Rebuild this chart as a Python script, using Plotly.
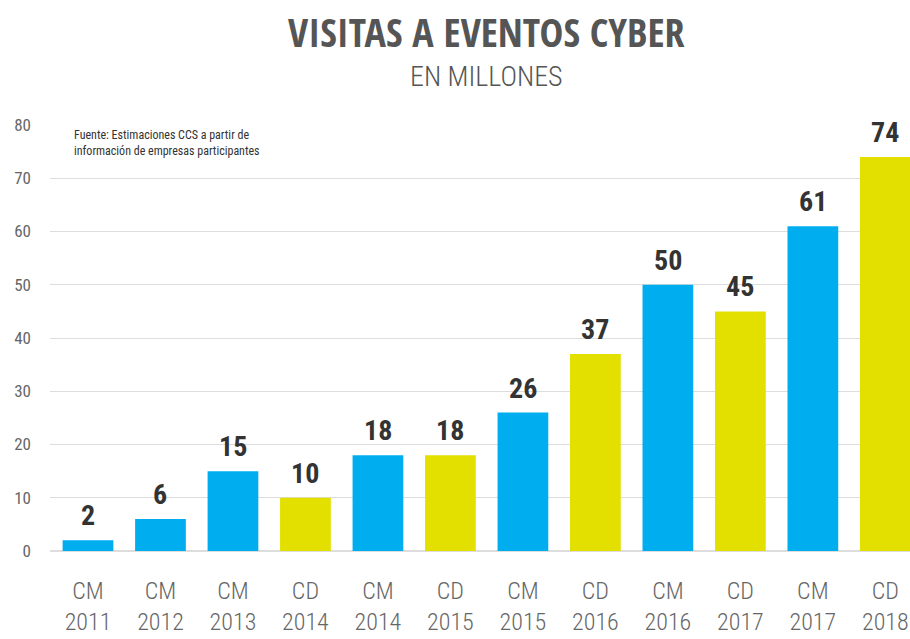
import plotly.graph_objects as go

categories = ["CM<br>2011", "CM<br>2012", "CM<br>2013", "CD<br>2014", "CM<br>2014", "CD<br>2015",
              "CM<br>2015", "CD<br>2016", "CM<br>2016", "CD<br>2017", "CM<br>2017", "CD<br>2018"]
values = [2, 6, 15, 10, 18, 18, 26, 37, 50, 45, 61, 74]
event_type = ["CM", "CM", "CM", "CD", "CM", "CD", "CM", "CD", "CM", "CD", "CM", "CD"]
y_ticks = [0, 10, 20, 30, 40, 50, 60, 70, 80]

BLUE = "#00AEEF"
YELLOW = "#E3E000"
colors = [BLUE if t == "CM" else YELLOW for t in event_type]

FONT = "Roboto Condensed, Open Sans Condensed, sans-serif"
TITLE_FONT = "Open Sans Condensed, Roboto Condensed, sans-serif"

fig = go.Figure()
fig.add_trace(go.Bar(x=categories, y=values, marker=dict(color=colors, line=dict(width=0)),
                     hoverinfo="x+y"))

for c, v in zip(categories, values):
    fig.add_annotation(x=c, y=v, text=f"<b>{v}</b>", showarrow=False, yanchor="bottom",
                       yshift=6, font=dict(family=FONT, size=28, color="#333333"))

fig.add_annotation(xref="paper", yref="paper", x=0.507, y=1, yanchor="middle", xanchor="center",
                   text="<b>VISITAS A EVENTOS CYBER</b>", showarrow=False, yshift=94,
                   font=dict(family=TITLE_FONT, size=40, color="#555555"))
fig.add_annotation(xref="paper", yref="paper", x=0.507, y=1, yanchor="middle", xanchor="center",
                   text="EN MILLONES", showarrow=False, yshift=49,
                   font=dict(family=FONT, size=28, color="#555555", weight=300))
fig.add_annotation(xref="paper", yref="paper", x=0.026, y=1, yanchor="top", xanchor="left",
                   align="left", showarrow=False, yshift=-1,
                   text="Fuente: Estimaciones CCS a partir de<br>información de empresas participantes",
                   font=dict(family=FONT, size=12, color="#333333"))

fig.update_layout(
    width=910, height=639,
    margin=dict(l=50, r=0, t=125, b=88),
    plot_bgcolor="white", paper_bgcolor="white",
    bargap=0.3, showlegend=False,
    xaxis=dict(range=[-0.524, 11.34], showgrid=False, showline=False, zeroline=False,
               automargin=False,
               tickfont=dict(family=FONT, size=24, color="#666666", weight=300), ticklabelstandoff=23),
    yaxis=dict(range=[0, 80], tickvals=y_ticks, showgrid=True, gridcolor="#dddddd", gridwidth=1,
               zeroline=True, zerolinecolor="#dddddd", showline=False, automargin=False,
               tickfont=dict(family=FONT, size=17, color="#666666"), ticklabelstandoff=18),
)

fig.write_html("out.html", config={"displayModeBar": False},
               post_script="document.body.style.margin='0';document.body.style.overflow='hidden';")
